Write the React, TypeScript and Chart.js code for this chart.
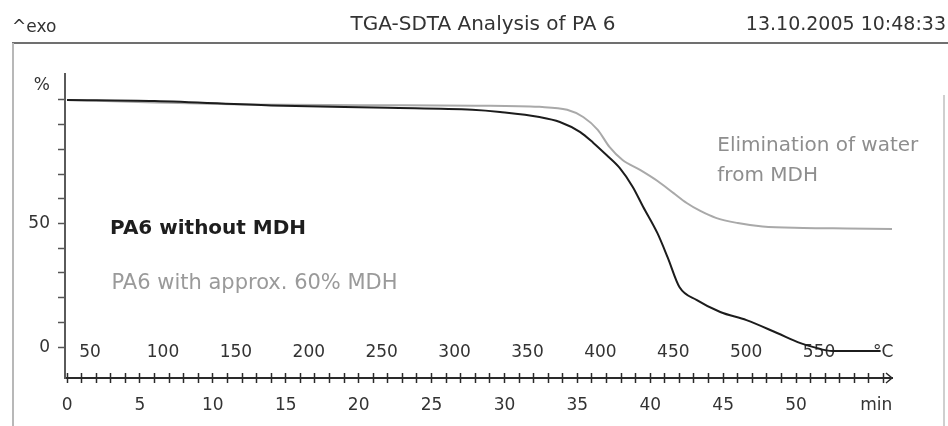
import React, { useEffect, useRef } from "react";
import { Chart, registerables } from "chart.js";

Chart.register(...registerables);

// ---------- data ----------
const seriesNames = ["PA6 without MDH", "PA6 with approx. 60% MDH"];

// time in minutes, mass in %
const blackTime = [0, 6, 14, 22, 27.8, 29.7, 32.4, 33.8, 35.2, 36.1, 37.0, 37.9, 38.8, 39.5, 40.5, 41.2, 42.0, 43.2, 44.8, 46.6, 48.7, 50.3, 51.2, 52.5, 55.8];
const blackPct = [100, 99.6, 97.8, 96.8, 96.0, 95.1, 93.1, 91.1, 87.0, 82.6, 77.7, 72.5, 64.8, 56.9, 46.0, 36.2, 24.3, 19.0, 14.2, 10.9, 5.7, 1.6, 0, -1.6, -1.6];

const greyTime = [0, 6, 12, 20, 28, 32.4, 34.3, 35.4, 36.4, 37.2, 38.1, 39.3, 40.5, 41.6, 42.5, 43.4, 44.5, 46.0, 47.7, 50.5, 53.5, 56.7];
const greyPct = [100, 99.0, 98.2, 97.9, 97.7, 97.2, 96.0, 93.1, 87.9, 81.0, 75.7, 71.7, 67.2, 62.3, 58.3, 55.2, 52.3, 50.2, 48.8, 48.2, 48.0, 47.8];

const minuteTicks = Array.from({ length: 57 }, (_, i) => i); // one tick per minute, 0..56
const minuteLabels = [0, 5, 10, 15, 20, 25, 30, 35, 40, 45, 50];
const minuteUnit = { value: 55.5, label: "min" };

const tempLabels = [50, 100, 150, 200, 250, 300, 350, 400, 450, 500, 550];
const tempUnit = { value: 594, label: "°C" };
const startTemp = 34.2; // °C at t = 0
const heatingRate = 10; // K/min

const yTicks = [0, 10, 20, 30, 40, 50, 60, 70, 80, 90, 100];
const yLabels = [0, 50];
const yUnit = { value: 106, label: "%" };

const titleText = "TGA-SDTA Analysis of PA 6";
const dateText = "13.10.2005 10:48:33";
const exoText = "^exo";
const noteLines = ["Elimination of water", "from MDH"];

// ---------- layout constants ----------
const XMIN = -0.14;
const XMAX = 56.58;
const YMIN = -12.5;
const YMAX = 110.5;
const FAM = "'DejaVu Sans', 'Liberation Sans', sans-serif";

const decorPlugin = {
  id: "decor",
  beforeDraw(chart: any) {
    const ctx = chart.ctx as CanvasRenderingContext2D;
    ctx.save();
    ctx.fillStyle = "#ffffff";
    ctx.fillRect(0, 0, chart.width, chart.height);
    const line = (x1: number, y1: number, x2: number, y2: number) => {
      ctx.beginPath();
      ctx.moveTo(x1, y1);
      ctx.lineTo(x2, y2);
      ctx.stroke();
    };
    ctx.lineWidth = 2;
    ctx.strokeStyle = "#707070";
    line(12, 43, 948, 43);
    ctx.strokeStyle = "#b8b8b8";
    line(13, 43, 13, 426);
    ctx.strokeStyle = "#cfcfcf";
    line(944, 95, 944, 426);

    ctx.fillStyle = "#333333";
    ctx.textBaseline = "middle";
    ctx.font = `17px ${FAM}`;
    ctx.textAlign = "left";
    ctx.fillText(exoText, 12, 28);
    ctx.font = `20px ${FAM}`;
    ctx.textAlign = "center";
    ctx.fillText(titleText, 483, 25);
    ctx.font = `19px ${FAM}`;
    ctx.textAlign = "right";
    ctx.fillText(dateText, 946, 25);
    ctx.restore();
  },
  afterDraw(chart: any) {
    const ctx = chart.ctx as CanvasRenderingContext2D;
    const xs = chart.scales.x;
    const ys = chart.scales.y;
    ctx.save();
    // arrow head at end of time axis
    const ax = chart.chartArea.right;
    const ay = chart.chartArea.bottom;
    ctx.strokeStyle = "#2a2a2a";
    ctx.lineWidth = 1.5;
    ctx.beginPath();
    ctx.moveTo(ax - 6, ay - 5);
    ctx.lineTo(ax, ay);
    ctx.lineTo(ax - 6, ay + 5);
    ctx.stroke();

    ctx.textBaseline = "middle";
    ctx.textAlign = "left";
    ctx.fillStyle = "#1e1e1e";
    ctx.font = `bold 20px ${FAM}`;
    ctx.fillText(seriesNames[0], xs.getPixelForValue(2.95), ys.getPixelForValue(47.7));
    ctx.fillStyle = "#9a9a9a";
    ctx.font = `21px ${FAM}`;
    ctx.fillText(seriesNames[1], xs.getPixelForValue(3.05), ys.getPixelForValue(25.9));
    ctx.fillStyle = "#8e8e8e";
    ctx.font = `20px ${FAM}`;
    ctx.fillText(noteLines[0], xs.getPixelForValue(44.6), ys.getPixelForValue(81.3));
    ctx.fillText(noteLines[1], xs.getPixelForValue(44.6), ys.getPixelForValue(69.2));
    ctx.restore();
  },
};

const tempAt = (t: number) => startTemp + heatingRate * t;

export default function App() {
  const ref = useRef<HTMLCanvasElement>(null);

  useEffect(() => {
    if (!ref.current) return;
    const black = blackTime.map((t, i) => ({ x: t, y: blackPct[i] }));
    const grey = greyTime.map((t, i) => ({ x: t, y: greyPct[i] }));
    const transparent = "rgba(0,0,0,0)";

    const chart = new Chart(ref.current, {
      type: "line",
      data: {
        datasets: [
          {
            label: seriesNames[0],
            data: black,
            borderColor: "#1c1c1c",
            borderWidth: 2,
            pointRadius: 0,
            fill: false,
            cubicInterpolationMode: "monotone",
          },
          {
            label: seriesNames[1],
            data: grey,
            borderColor: "#a9a9a9",
            borderWidth: 2,
            pointRadius: 0,
            fill: false,
            cubicInterpolationMode: "monotone",
          },
        ],
      },
      options: {
        animation: false,
        responsive: false,
        events: [],
        layout: { padding: { left: 0, right: 56, top: 74, bottom: 0 } },
        plugins: {
          legend: { display: false },
          tooltip: { enabled: false },
          title: { display: false },
        },
        scales: {
          x: {
            type: "linear",
            position: "bottom",
            min: XMIN,
            max: XMAX,
            afterBuildTicks: (s: any) => {
              s.ticks = [...minuteTicks, minuteUnit.value]
                .sort((a, b) => a - b)
                .map((v) => ({ value: v }));
            },
            afterFit: (s: any) => {
              s.height = 48;
            },
            ticks: {
              autoSkip: false,
              maxRotation: 0,
              minRotation: 0,
              padding: 12,
              color: "#333333",
              font: { family: FAM, size: 17 },
              callback: (v: any) =>
                v === minuteUnit.value ? minuteUnit.label : minuteLabels.includes(v) ? String(v) : "",
            },
            grid: {
              drawOnChartArea: false,
              drawTicks: true,
              tickLength: 5,
              tickWidth: 1.5,
              tickColor: (c: any) => (c.tick && c.tick.value === minuteUnit.value ? transparent : "#2a2a2a"),
            },
            border: { display: true, color: "#2a2a2a", width: 2 },
          },
          xUp: {
            type: "linear",
            axis: "x",
            position: { y: YMIN + 5 / 2.4715 },
            min: XMIN,
            max: XMAX,
            afterBuildTicks: (s: any) => {
              s.ticks = minuteTicks.map((v) => ({ value: v }));
            },
            ticks: { display: false },
            grid: {
              drawOnChartArea: false,
              drawTicks: true,
              tickLength: 5,
              tickWidth: 1.5,
              tickColor: "#2a2a2a",
            },
            border: { display: false },
          },
          xT: {
            type: "linear",
            axis: "x",
            position: { y: YMIN },
            min: tempAt(XMIN),
            max: tempAt(XMAX),
            afterBuildTicks: (s: any) => {
              s.ticks = [...tempLabels, tempUnit.value].map((v) => ({ value: v }));
            },
            ticks: {
              autoSkip: false,
              maxRotation: 0,
              minRotation: 0,
              padding: -36,
              color: "#333333",
              font: { family: FAM, size: 17 },
              callback: (v: any) => (v === tempUnit.value ? tempUnit.label : String(v)),
            },
            grid: { display: false, drawTicks: false },
            border: { display: false },
          },
          y: {
            type: "linear",
            position: "left",
            min: YMIN,
            max: YMAX,
            afterBuildTicks: (s: any) => {
              s.ticks = [...yTicks, yUnit.value].map((v) => ({ value: v }));
            },
            afterFit: (s: any) => {
              s.width = 65;
            },
            ticks: {
              autoSkip: false,
              padding: 8,
              color: "#333333",
              font: { family: FAM, size: 17 },
              callback: (v: any) =>
                v === yUnit.value ? yUnit.label : yLabels.includes(v) ? String(v) : "",
            },
            grid: {
              drawOnChartArea: false,
              drawTicks: true,
              tickLength: 7,
              tickWidth: 1.5,
              tickColor: (c: any) => (c.tick && c.tick.value === yUnit.value ? transparent : "#555555"),
            },
            border: { display: true, color: "#5a5a5a", width: 2 },
          },
        },
      } as any,
      plugins: [decorPlugin],
    });
    return () => chart.destroy();
  }, []);

  return (
    <div style={{ position: "absolute", left: 0, top: 0, width: 948, height: 426, background: "#fff" }}>
      <canvas ref={ref} width={948} height={426} style={{ display: "block", width: 948, height: 426 }} />
    </div>
  );
}
